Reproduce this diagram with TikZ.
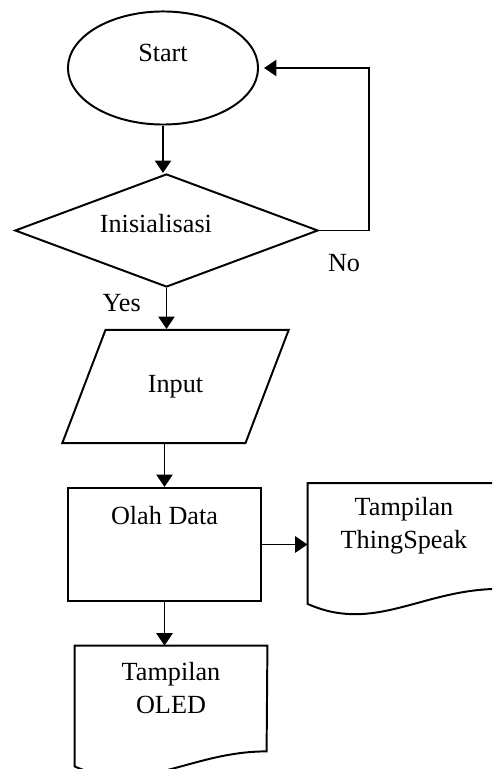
\documentclass[tikz,border=0pt]{standalone}
\usepackage{fontspec}
\setmainfont{Liberation Serif}
\usetikzlibrary{shapes.geometric,arrows.meta}

\tikzset{
  terminal/.style={draw, ellipse, line width=0.9pt, minimum width=3.06cm, minimum height=1.82cm, inner sep=0pt},
  decision/.style={draw, diamond, aspect=2.68, line width=0.9pt, minimum width=4.88cm, minimum height=1.82cm, inner sep=0pt},
  inputbox/.style={draw, trapezium, trapezium left angle=60, trapezium right angle=120, trapezium stretches=true, line width=0.9pt, minimum width=3.65cm, minimum height=1.82cm},
  process/.style={draw, rectangle, line width=0.9pt, minimum width=3.11cm, minimum height=1.82cm},
  docbox/.style={rectangle, inner sep=0pt, minimum width=3.09cm, minimum height=1.93cm},
  docline/.style={line width=0.9pt},
  arrow/.style={line width=0.9pt, -{Triangle[length=0.2cm,width=0.26cm]}}
}

\begin{document}
\begin{tikzpicture}[x=0.0161cm, y=-0.0161cm, font=\fontsize{12}{15}\selectfont]
\clip (0,0) rectangle (492,769);
% main flow
\node [terminal, label={[yshift=0.24cm]center:Start}] (start) at (163,68) {};
\node [decision, label={[xshift=-0.17cm,yshift=0.11cm]center:Inisialisasi}] (init) at (166.5,230.5) {};
\node [inputbox] (input) at (175.5,386.5) {Input};
\node [process, label={[yshift=0.47cm]center:Olah Data}] (olah) at (164.5,544.5) {};
% outputs
\node [docbox, label={[align=center,yshift=0.28cm]center:Tampilan\\ThingSpeak}] (thing) at (404,543.5) {};
\node [docbox, label={[align=center,yshift=0.29cm]center:Tampilan\\OLED}] (oled) at (171,706) {};
\draw [docline] (thing.north west) -- (thing.south west) .. controls +(67,30) and +(-77,0) .. ++(192,-15) -- (thing.north east) -- cycle;
\draw [docline] (oled.north west) -- (oled.south west) .. controls +(67,30) and +(-77,0) .. ++(192,-15) -- (oled.north east) -- cycle;

% connectors
\draw [arrow] (start.south) -- (start.south |- init.north);
\draw [arrow, shorten >=0.08cm] (init.east) -- ++(50,0) node [below=7pt, midway] (no) {No} |- (start.east);
\draw [arrow] (init.south) -- node [left=8pt, pos=0.37] (yes) {Yes} (init.south |- input.north);
\draw [arrow] (olah.north |- input.south) -- (olah.north);
\draw [arrow] (olah.east) -- (olah.east -| thing.west);
\draw [arrow] (olah.south) -- (olah.south |- oled.north);
\end{tikzpicture}
\end{document}
